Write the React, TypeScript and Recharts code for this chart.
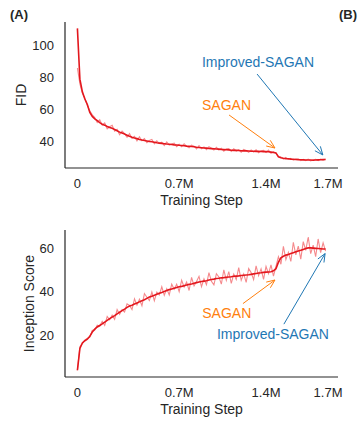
import React from 'react';
import { LineChart, Line, XAxis, YAxis, ReferenceLine, ReferenceDot } from 'recharts';

// x is the evaluation index (0..100); tick labels are set by hand like the original figure
const xTickPos = [0, 41, 76, 101];
const xTickLabels = ['0', '0.7M', '1.4M', '1.7M'];

const fidTicks = [40, 60, 80, 100];
const isTicks = [20, 40, 60];

const fidRaw = [
  86, 76, 70, 67, 62.5, 59, 56.5, 54.8, 51.6, 53.4,
  50, 51.4, 47.7, 49, 49.9, 46.2, 47.3, 44, 46.2, 44.6,
  42.4, 44.7, 41.6, 43, 40.1, 42.6, 40.2, 41.5, 38.9, 40.3,
  41, 38.3, 40.1, 38.4, 39.3, 37.2, 39.5, 37.5, 38.1, 38.7,
  36.5, 37.9, 36.4, 38.3, 36.6, 35.7, 37.4, 36.8, 35, 37.1,
  35.2, 36.3, 34.6, 36.4, 35.4, 34.3, 36, 34.4, 35.5, 33.6,
  35.1, 35.2, 33.5, 35.1, 33.7, 34.5, 33, 34.7, 34, 32.9,
  34.3, 33.1, 34.5, 32.6, 33.8, 34.1, 32.7, 34.3, 32.3, 33.3,
  32.2, 30.3, 30, 28.6, 29.6, 28.4, 29.1, 27.9, 28.7, 28.8,
  27.7, 28.5, 27.7, 28.6, 27.5, 28.2, 28.5, 27.7, 28.6, 28.1,
  28.7,
];

const fidSmooth = [
  111, 79, 71, 66.5, 63, 58, 55.5, 54, 52.8, 51.6,
  50.6, 50, 49.2, 48.5, 48, 47.3, 46.5, 45.6, 45, 44.4,
  43.7, 43, 42.4, 41.9, 41.5, 41, 40.6, 40.3, 40, 39.7,
  39.5, 39.2, 38.9, 38.7, 38.5, 38.3, 38.1, 38, 37.8, 37.6,
  37.5, 37.3, 37.2, 37, 36.8, 36.7, 36.5, 36.4, 36.1, 35.9,
  35.8, 35.6, 35.5, 35.3, 35.2, 35.1, 35, 34.9, 34.7, 34.6,
  34.5, 34.4, 34.2, 34.1, 34.1, 34, 33.9, 33.8, 33.8, 33.7,
  33.6, 33.6, 33.5, 33.5, 33.4, 33.3, 33.3, 33.2, 33, 32.8,
  32.5, 30, 29.4, 29.1, 28.9, 28.8, 28.6, 28.5, 28.4, 28.2,
  28.2, 28.1, 28, 28, 28, 27.9, 28, 28.1, 28.2, 28.3,
  28.4,
];

const isRaw = [
  4, 14.8, 16.2, 17.8, 18.6, 19.2, 22.3, 22.4, 24.6, 24.2,
  26.4, 24.5, 28.6, 27.1, 29.2, 27.3, 31.8, 29.6, 31.7, 30.7,
  34.4, 33.7, 31.8, 36.7, 33.8, 36.5, 33.5, 39.1, 37.4, 35.9,
  39.8, 35.8, 39.8, 38.5, 42.2, 38.3, 41.3, 38.5, 43.4, 41.1,
  43.4, 40, 45.2, 42.1, 44.4, 40.5, 46.5, 42.6, 44.6, 47,
  42.2, 45.8, 43.2, 48.7, 44.7, 43.1, 48.2, 46.7, 43.4, 50,
  45.2, 49.1, 43.8, 48, 45.5, 51, 45.2, 48.1, 44.2, 50.6,
  48.7, 45.5, 51.8, 47.3, 50.4, 45.6, 51.5, 48.2, 52.2, 47.1,
  51.5, 56, 52.5, 60.7, 54.7, 58, 53.8, 62.6, 56.8, 60.8,
  54.9, 62.9, 58.9, 65, 57.4, 61.3, 56, 64.1, 57.8, 62.3,
  58.5,
];

const isSmooth = [
  4, 14, 16.5, 17.5, 18.2, 19.5, 21.5, 22.8, 23.8, 24.5,
  25.2, 26, 26.8, 27.6, 28.3, 29, 29.8, 30.6, 31.3, 32,
  32.8, 33.4, 33.8, 34.3, 34.8, 35.3, 35.8, 36.3, 36.9, 37.5,
  37.9, 38.3, 38.8, 39.2, 39.6, 40.1, 40.5, 40.9, 41.2, 41.5,
  41.9, 42.2, 42.4, 42.7, 43, 43.3, 43.5, 43.8, 44.1, 44.4,
  44.6, 44.8, 45, 45.3, 45.5, 45.7, 46, 46.1, 46.3, 46.4,
  46.6, 46.7, 46.8, 47, 47.1, 47.2, 47.4, 47.5, 47.6, 47.7,
  47.9, 48.1, 48.3, 48.5, 48.6, 48.8, 48.9, 49, 49.1, 49.5,
  50.5, 53.5, 55.5, 56.2, 56.7, 57, 57.4, 57.8, 58.2, 58.6,
  58.9, 59.3, 59.7, 60, 60, 59.9, 59.8, 59.7, 59.6, 59.5,
  59.5,
];

const ORANGE = '#ff7f0e';
const BLUE = '#1f77b4';
const INK = '#262626';
const RAW = '#f58a8d';
const SMOOTH = '#e3171d';

const fidData = fidRaw.map((v, i) => ({ step: i, raw: v, smooth: fidSmooth[i] }));
const isData = isRaw.map((v, i) => ({ step: i, raw: v, smooth: isSmooth[i] }));

interface Note {
  text: string;
  color: string;
  at: [number, number];
  from: [number, number];
  to: [number, number];
}

const fidNotes: Note[] = [
  { text: 'Improved-SAGAN', color: BLUE, at: [50.2, 90], from: [72.4, 82.2], to: [98.9, 31.2] },
  { text: 'SAGAN', color: ORANGE, at: [50.2, 62.7], from: [61.1, 56.4], to: [79.6, 35.6] },
];

const isNotes: Note[] = [
  { text: 'SAGAN', color: ORANGE, at: [50.3, 30.3], from: [66.7, 34.5], to: [79.6, 45.3] },
  { text: 'Improved-SAGAN', color: BLUE, at: [56.2, 20.5], from: [83.2, 25.1], to: [99.8, 57.4] },
];

const Arrow = (props: any) => {
  const { x1, y1, x2, y2, color } = props;
  const ang = Math.atan2(y2 - y1, x2 - x1);
  const len = 9;
  const spread = 0.4;
  const ax = x2 - len * Math.cos(ang - spread);
  const ay = y2 - len * Math.sin(ang - spread);
  const bx = x2 - len * Math.cos(ang + spread);
  const by = y2 - len * Math.sin(ang + spread);
  return (
    <g>
      <line x1={x1} y1={y1} x2={x2} y2={y2} stroke={color} strokeWidth={1} />
      <polyline points={`${ax},${ay} ${x2},${y2} ${bx},${by}`} fill="none" stroke={color} strokeWidth={1} />
    </g>
  );
};

const tickStyle = { fill: INK, fontSize: 13 };
const labelStyle = { fill: INK, fontSize: 14, textAnchor: 'middle' as const };

function renderNotes(notes: Note[]) {
  return notes.flatMap((n) => [
    <ReferenceLine
      key={n.text + '-arrow'}
      segment={[{ x: n.from[0], y: n.from[1] }, { x: n.to[0], y: n.to[1] }]}
      shape={(p: any) => <Arrow {...p} color={n.color} />}
    />,
    <ReferenceDot
      key={n.text + '-label'}
      x={n.at[0]}
      y={n.at[1]}
      shape={(p: any) => (
        <text x={p.cx} y={p.cy} dy="0.36em" fill={n.color} fontSize={14} textAnchor="start">
          {n.text}
        </text>
      )}
    />,
  ]);
}

interface PanelProps {
  data: any[];
  yDomain: [number, number];
  yTicks: number[];
  yLabel: string;
  yLabelX: number;
  marginTop: number;
  marginBottom: number;
  notes: Note[];
}

const Panel = ({ data, yDomain, yTicks, yLabel, yLabelX, marginTop, marginBottom, notes }: PanelProps) => (
  <LineChart width={360} height={216} data={data} margin={{ top: marginTop, right: 22, bottom: marginBottom, left: 0 }}>
    <XAxis
      dataKey="step"
      type="number"
      domain={[-5, 105]}
      ticks={xTickPos}
      tickFormatter={(v: number) => xTickLabels[xTickPos.indexOf(v)]}
      tickLine={false}
      tickMargin={5}
      tick={tickStyle}
      axisLine={{ stroke: INK, strokeWidth: 1.2 }}
      height={40}
      label={{ value: 'Training Step', position: 'insideBottom', offset: 3, style: labelStyle }}
    />
    <YAxis
      type="number"
      domain={yDomain}
      ticks={yTicks}
      tickLine={false}
      tickMargin={5}
      tick={tickStyle}
      axisLine={{ stroke: INK, strokeWidth: 1.2 }}
      width={65}
      label={{ value: yLabel, angle: -90, position: 'insideLeft', offset: yLabelX, style: labelStyle }}
    />
    <Line dataKey="raw" stroke={RAW} strokeWidth={1.1} dot={false} isAnimationActive={false} />
    <Line dataKey="smooth" stroke={SMOOTH} strokeWidth={1.6} dot={false} isAnimationActive={false} />
    {renderNotes(notes)}
  </LineChart>
);

export default function App() {
  return (
    <div
      style={{
        position: 'absolute',
        left: 0,
        top: 0,
        width: 360,
        height: 432,
        background: '#fff',
        fontFamily: "'Liberation Sans', Arial, sans-serif",
        color: INK,
      }}
    >
      <div style={{ position: 'absolute', left: 10, top: 7, fontSize: 13, fontWeight: 'bold' }}>(A)</div>
      <div style={{ position: 'absolute', left: 339, top: 7, fontSize: 13, fontWeight: 'bold' }}>(B)</div>
      <div style={{ position: 'absolute', left: 0, top: 0 }}>
        <Panel
          data={fidData}
          yDomain={[23, 115]}
          yTicks={fidTicks}
          yLabel="FID"
          yLabelX={21}
          marginTop={22}
          marginBottom={8}
          notes={fidNotes}
        />
      </div>
      <div style={{ position: 'absolute', left: 0, top: 216 }}>
        <Panel
          data={isData}
          yDomain={[0.9, 68.2]}
          yTicks={isTicks}
          yLabel="Inception Score"
          yLabelX={29}
          marginTop={14}
          marginBottom={15}
          notes={isNotes}
        />
      </div>
    </div>
  );
}
